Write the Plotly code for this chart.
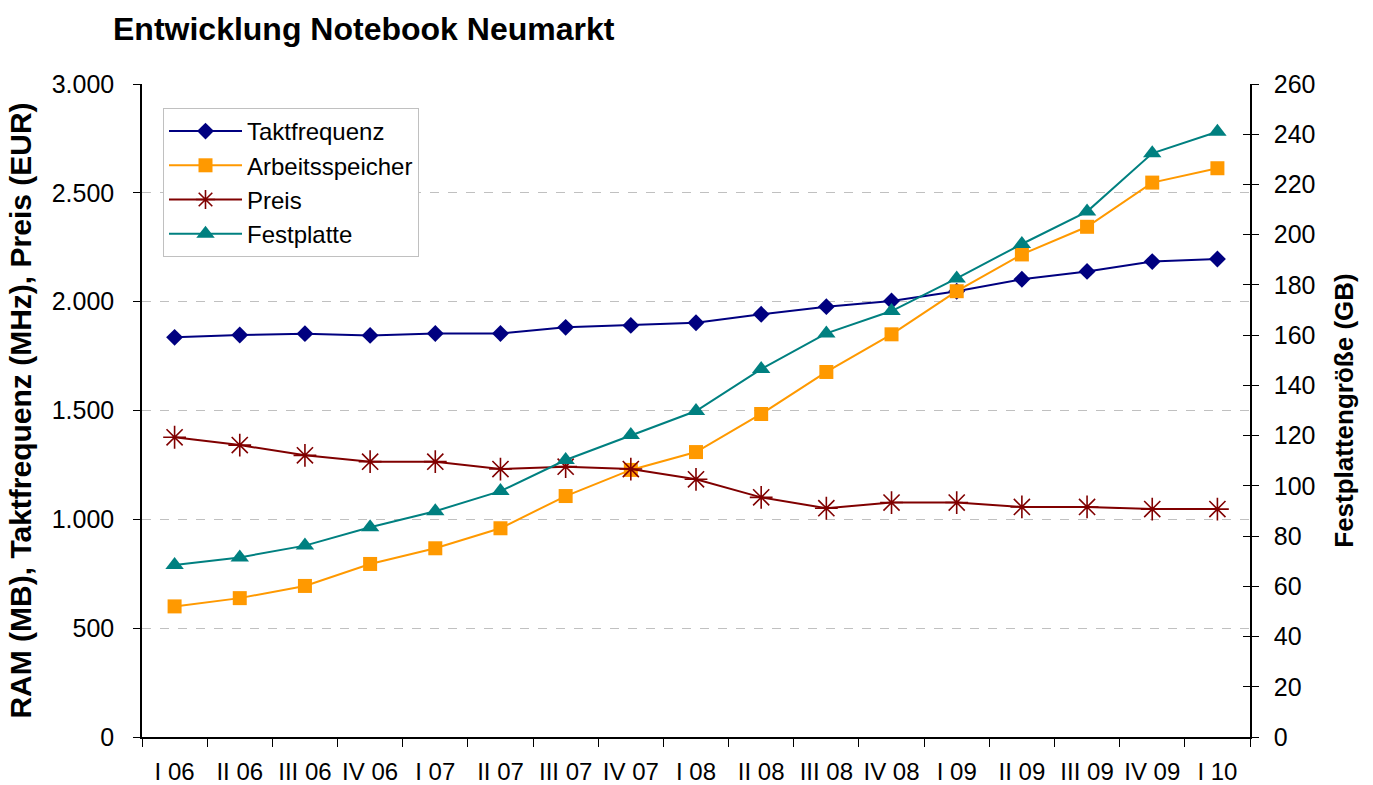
import plotly.graph_objects as go

quarters = ["I 06", "II 06", "III 06", "IV 06", "I 07", "II 07", "III 07", "IV 07",
            "I 08", "II 08", "III 08", "IV 08", "I 09", "II 09", "III 09", "IV 09", "I 10"]
taktfrequenz = [1836, 1847, 1853, 1845, 1854, 1854, 1882, 1891, 1903, 1942, 1977, 2003,
                2048, 2103, 2139, 2184, 2196]
arbeitsspeicher = [600, 638, 694, 795, 867, 959, 1107, 1227, 1309, 1484, 1677, 1850,
                   2048, 2217, 2344, 2547, 2613]
preis = [1377, 1341, 1294, 1265, 1265, 1231, 1242, 1231, 1184, 1101, 1051, 1077,
         1077, 1057, 1057, 1047, 1047]
festplatte = [68.5, 71.5, 76.2, 83.5, 89.9, 97.9, 110.3, 120.2, 129.8, 146.5, 160.7, 169.6,
              182.6, 196.3, 209.2, 232.4, 241]

FONT = "Liberation Sans, Arial, sans-serif"

fig = go.Figure()
fig.add_trace(go.Scatter(
    x=quarters, y=taktfrequenz, name="Taktfrequenz", mode="lines+markers",
    line=dict(color="#000080", width=2),
    marker=dict(symbol="diamond", size=13, color="#000080")))
fig.add_trace(go.Scatter(
    x=quarters, y=arbeitsspeicher, name="Arbeitsspeicher", mode="lines+markers",
    line=dict(color="#FF9900", width=2),
    marker=dict(symbol="square", size=14, color="#FF9900")))
fig.add_trace(go.Scatter(
    x=quarters, y=preis, name="Preis", mode="lines+markers",
    line=dict(color="#800000", width=2),
    marker=dict(symbol="asterisk-open", size=19, color="#800000",
                line=dict(color="#800000", width=1.6))))
fig.add_trace(go.Scatter(
    x=quarters, y=festplatte, name="Festplatte", mode="lines+markers", yaxis="y2",
    line=dict(color="#008080", width=2),
    marker=dict(symbol="triangle-up", size=16, color="#008080")))
# empty helper trace so the inner half of the right-axis ticks is drawn
fig.add_trace(go.Scatter(x=[None], y=[None], yaxis="y3", showlegend=False,
                         hoverinfo="skip", mode="lines"))

fig.update_layout(
    width=1373, height=785,
    paper_bgcolor="white", plot_bgcolor="white",
    separators=",.",
    font=dict(family=FONT, size=25, color="black"),
    margin=dict(l=142, r=123, t=84, b=48, autoexpand=False),
    title=dict(text="<b>Entwicklung Notebook Neumarkt</b>",
               font=dict(family=FONT, size=32, color="black"),
               xref="container", x=113 / 1373, xanchor="left",
               yref="container", y=1 - 29 / 785, yanchor="middle"),
    xaxis=dict(type="category", range=[-0.5, len(quarters) - 0.5],
               showline=True, linecolor="black", linewidth=1.5,
               ticks="outside", tickson="boundaries", ticklen=8, tickcolor="black",
               showgrid=False, ticklabelstandoff=12, tickfont=dict(size=24),
               tickangle=0, zeroline=False),
    yaxis=dict(range=[0, 3000], dtick=500, tickformat=",d", showline=True,
               linecolor="black", linewidth=1.5, ticks="outside", ticklen=7,
               tickcolor="black", showgrid=True, gridcolor="#c0c0c0",
               griddash="dash", gridwidth=1, zeroline=False,
               ticklabelstandoff=14, tickfont=dict(size=25),
               title=dict(text="<b>RAM (MB), Taktfrequenz (MHz), Preis (EUR)</b>",
                          font=dict(size=30), standoff=11)),
    yaxis2=dict(range=[0, 260], dtick=20, overlaying="y", side="right",
                showline=True, linecolor="black", linewidth=1.5, ticks="outside",
                ticklen=7, tickcolor="black", showgrid=False, zeroline=False,
                ticklabelstandoff=10, tickfont=dict(size=25),
                title=dict(text="<b>Festplattengröße (GB)</b>",
                           font=dict(size=26), standoff=20)),
    yaxis3=dict(range=[0, 260], dtick=20, overlaying="y", side="right", anchor="x",
                showline=False, ticks="inside", ticklen=7, tickcolor="black",
                showticklabels=False, showgrid=False, zeroline=False, fixedrange=True),
    legend=dict(x=(163 - 142) / 1108, y=(737 - 108) / 653, xanchor="left", yanchor="top",
                bgcolor="white", bordercolor="#c0c0c0", borderwidth=1,
                font=dict(size=24), itemwidth=73),
    showlegend=True,
)

fig.write_html("out.html", config={"displayModeBar": False},
               post_script="document.body.style.margin='0';document.body.style.overflow='hidden';")
